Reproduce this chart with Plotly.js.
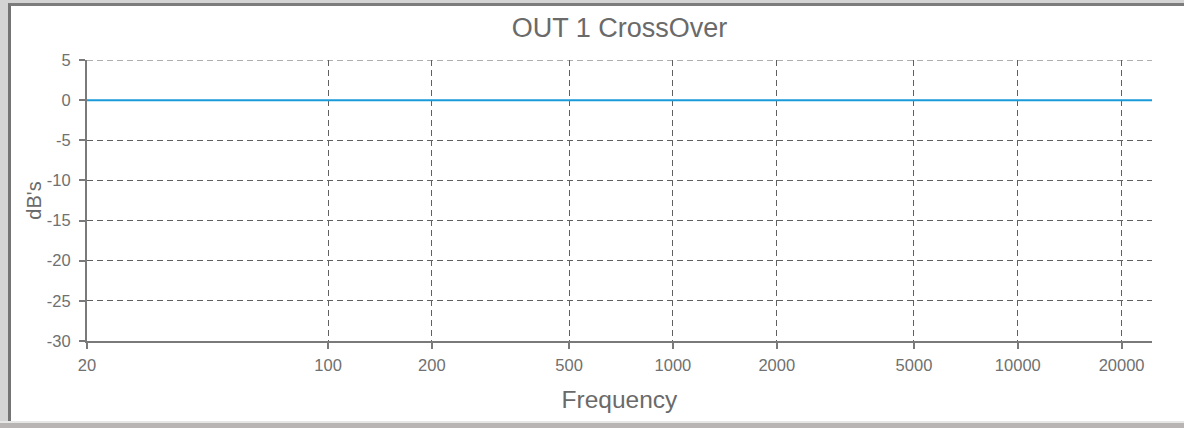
<!DOCTYPE html>
<html>
<head>
<meta charset="utf-8">
<script src="https://cdn.plot.ly/plotly-3.0.1.min.js"></script>
<style>
  html, body { margin: 0; padding: 0; width: 1184px; height: 428px; overflow: hidden; background: #d4d4d4; }
  #frame { position: absolute; left: 8px; top: 3px; width: 1176px; height: 418px; background: #ffffff;
           border-left: 3px solid #747474; border-top: 3px solid #7c7c7c; box-sizing: border-box; }
  #bottomband { position: absolute; left: 0; top: 421px; width: 1184px; height: 7px; background: #b9b4b4; border-top: 2px solid #e6e6e6; box-sizing: border-box; }
  #chart { position: absolute; left: 0; top: 0; width: 1184px; height: 428px; }
</style>
</head>
<body>
<div id="frame"></div>
<div id="bottomband"></div>
<div id="chart"></div>
<script>
const chartTitle = "OUT 1 CrossOver";
const xTitle = "Frequency";
const yTitle = "dB's";
const frequencies = [20, 50, 100, 200, 500, 1000, 2000, 5000, 10000, 20000, 24500];
const gainDb = [0, 0, 0, 0, 0, 0, 0, 0, 0, 0, 0];
const xTickVals = [20, 100, 200, 500, 1000, 2000, 5000, 10000, 20000];
const xTickText = ["20", "100", "200", "500", "1000", "2000", "5000", "10000", "20000"];
const yTickVals = [5, 0, -5, -10, -15, -20, -25, -30];
const yTickText = ["5", "0", "-5", "-10", "-15", "-20", "-25", "-30"];
const xRange = [20, 24500];
const yRange = [-30, 5];

const fontFam = "Liberation Sans, Arial, sans-serif";
const gridCol = "#606060";
const trace = {
  x: frequencies, y: gainDb, type: "scatter", mode: "lines",
  line: { color: "#1a9ad8", width: 2 }, hoverinfo: "skip", showlegend: false
};
const layout = {
  width: 1184, height: 428,
  paper_bgcolor: "rgba(0,0,0,0)", plot_bgcolor: "rgba(0,0,0,0)",
  margin: { l: 87, r: 32, t: 60, b: 87 },
  title: { text: chartTitle, x: 0.5, xref: "paper", y: 0.935, yref: "container", yanchor: "middle",
           font: { family: fontFam, size: 27, color: "#6a6a6a" } },
  xaxis: {
    type: "log", range: [Math.log10(xRange[0]), Math.log10(xRange[1])],
    tickmode: "array", tickvals: xTickVals, ticktext: xTickText,
    showgrid: true, gridcolor: gridCol, griddash: "6px,4px", gridwidth: 1,
    showline: true, linecolor: "#7a7a7a", linewidth: 2,
    ticks: "outside", ticklen: 6, tickcolor: "#7a7a7a", tickwidth: 2,
    ticklabelstandoff: 2,
    tickfont: { family: fontFam, size: 16.5, color: "#707070" },
    zeroline: false,
    title: { text: xTitle, standoff: 18, font: { family: fontFam, size: 24.5, color: "#6a6a6a" } }
  },
  yaxis: {
    range: yRange, tickmode: "array", tickvals: yTickVals, ticktext: yTickText,
    showgrid: true, gridcolor: gridCol, griddash: "6px,4px", gridwidth: 1,
    showline: true, linecolor: "#7a7a7a", linewidth: 2,
    ticks: "outside", ticklen: 6, tickcolor: "#7a7a7a", tickwidth: 2,
    ticklabelstandoff: 5,
    tickfont: { family: fontFam, size: 16.5, color: "#707070" },
    zeroline: false,
    automargin: false,
    title: { text: yTitle, standoff: 0, font: { family: fontFam, size: 20, color: "#6a6a6a" } }
  },
  shapes: [{
    type: "line", xref: "paper", x0: 0, x1: 1, yref: "y", y0: yRange[1], y1: yRange[1],
    line: { color: gridCol, width: 1, dash: "6px,4px" }, layer: "below"
  }]
};
Plotly.newPlot("chart", [trace], layout, { staticPlot: true, displayModeBar: false });
</script>
</body>
</html>
